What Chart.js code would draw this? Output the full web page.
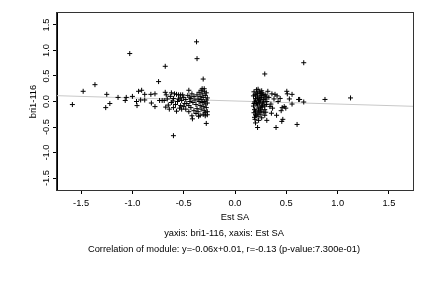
<!DOCTYPE html>
<html>
<head>
<meta charset="utf-8">
<script src="https://cdn.jsdelivr.net/npm/chart.js@4/dist/chart.umd.min.js"></script>
<style>
  html, body { margin: 0; padding: 0; background: #fff; }
  #wrap { width: 432px; height: 288px; }
</style>
</head>
<body>
<div id="wrap"><canvas id="c" width="432" height="288"></canvas></div>
<script>
// Est SA (x) and bri1-116 (y) values
const xVals = [
  -1.585, -1.48, -1.365, -1.25, -1.26, -1.22, -1.14, -1.07, -1.06, -1.0,
  -1.026, -0.96, -0.955, -0.94, -0.91, -0.92, -0.88, -0.88, -0.82, -0.78,
  -0.815, -0.78, -0.745, -0.735, -0.71, -0.69, -0.68, -0.67, -0.68, -0.675,
  -0.65, -0.64, -0.62, -0.605, -0.60, -0.57, -0.57, -0.55, -0.54, -0.535,
  -0.53, -0.49, -0.51, -0.48, -0.45, -0.44, -0.415, -0.38, -0.355, -0.34,
  -0.375, -0.37, -0.31, -0.32, -0.28,
  -0.66, -0.63, -0.62, -0.60, -0.59, -0.58, -0.56, -0.55, -0.53, -0.52,
  -0.50, -0.50, -0.48, -0.47, -0.46, -0.45, -0.44, -0.43, -0.43, -0.42,
  -0.41, -0.40, -0.40, -0.39, -0.38, -0.37, -0.37, -0.36, -0.36, -0.35,
  -0.35, -0.34, -0.34, -0.33, -0.33, -0.32, -0.32, -0.31, -0.31, -0.30,
  -0.30, -0.30, -0.29, -0.29, -0.29, -0.28, -0.28, -0.28, -0.27, -0.27,
  -0.27, -0.27, -0.29, -0.30, -0.31, -0.33, -0.45, -0.42, -0.52, -0.60,
  0.67, 0.29, 1.126, 0.877, 0.22, 0.40, 0.605, 0.456, 0.466, 0.405,
  0.31, 0.29, 0.355, 0.366, 0.45, 0.46, 0.505, 0.51, 0.556, 0.556,
  0.53, 0.62, 0.63, 0.67, 0.32, 0.36, 0.39, 0.41, 0.44, 0.42,
  0.48, 0.495, 0.38, 0.35, 0.33, 0.31, 0.34,
  0.185, 0.18, 0.19, 0.18, 0.185, 0.19, 0.195, 0.20, 0.185, 0.19,
  0.20, 0.195, 0.21, 0.205, 0.20, 0.215, 0.20, 0.205, 0.20, 0.215,
  0.22, 0.21, 0.225, 0.215, 0.225, 0.22, 0.235, 0.22, 0.23, 0.225,
  0.24, 0.235, 0.23, 0.245, 0.235, 0.23, 0.25, 0.245, 0.24, 0.25,
  0.245, 0.26, 0.255, 0.25, 0.26, 0.255, 0.265, 0.26, 0.27, 0.265,
  0.26, 0.275, 0.28, 0.27, 0.275, 0.285, 0.28, 0.29, 0.30, 0.295,
  0.29, 0.31, 0.305, 0.30
];
const yVals = [
  -0.06, 0.20, 0.33, 0.14, -0.12, -0.04, 0.08, 0.02, 0.08, 0.10,
  0.94, 0.00, -0.08, 0.20, 0.22, 0.03, 0.03, 0.14, 0.14, 0.15,
  -0.03, -0.10, 0.39, 0.02, 0.02, 0.02, 0.18, 0.13, 0.69, -0.11,
  -0.07, -0.15, 0.17, 0.01, -0.67, -0.19, 0.14, 0.13, -0.13, 0.07,
  0.13, -0.04, 0.13, -0.15, 0.22, 0.085, -0.34, -0.235, -0.29, -0.27,
  1.17, 0.84, 0.44, 0.25, -0.43,
  0.05, 0.10, -0.02, 0.06, 0.15, -0.06, 0.00, 0.05, -0.08, 0.02,
  0.08, -0.10, 0.04, -0.04, 0.12, -0.08, 0.00, 0.06, -0.12, 0.15,
  -0.02, 0.10, -0.18, 0.03, -0.06, 0.13, -0.14, 0.05, -0.20, 0.18,
  0.00, -0.08, 0.10, -0.15, 0.04, -0.02, 0.15, -0.10, 0.08, 0.00,
  -0.18, 0.20, -0.05, 0.12, -0.22, 0.03, -0.12, 0.17, -0.03, 0.07,
  -0.20, -0.26, -0.28, 0.25, -0.25, 0.22, -0.20, -0.28, -0.15, -0.12,
  0.76, 0.54, 0.07, 0.04, -0.51, -0.51, -0.45, -0.39, -0.35, -0.27,
  -0.37, -0.27, -0.23, -0.13, -0.18, -0.12, 0.20, 0.15, 0.14, -0.05,
  0.05, 0.04, 0.04, -0.01, 0.20, 0.15, 0.14, 0.11, 0.06, 0.00,
  -0.10, -0.13, 0.05, -0.05, 0.08, 0.00, -0.10,
  0.19, 0.11, -0.01, -0.09, -0.22, -0.31, 0.14, 0.06, -0.04, -0.16,
  -0.26, -0.35, 0.23, 0.11, 0.03, -0.07, -0.19, -0.28, -0.42, 0.17,
  0.07, -0.03, -0.13, -0.23, 0.24, 0.15, 0.03, -0.05, -0.17, -0.29,
  0.19, 0.09, 0.01, -0.11, -0.21, -0.37, 0.16, 0.05, -0.03, -0.15,
  -0.25, 0.21, 0.12, 0.01, -0.09, -0.19, 0.17, 0.08, -0.03, -0.11,
  -0.32, 0.14, 0.04, -0.07, -0.21, 0.11, -0.01, -0.09, 0.13, 0.05,
  -0.16, 0.09, -0.06, -0.21
];
const tickVals = [-1.5, -1.0, -0.5, 0.0, 0.5, 1.0, 1.5];
const fitSlope = -0.06;
const fitIntercept = 0.01;
const axisMin = -1.735;
const axisMax = 1.735;
const xTitle = 'Est SA';
const yTitle = 'bri1-116';
const captionLines = [
  'yaxis: bri1-116, xaxis: Est SA',
  'Correlation of module: y=-0.06x+0.01, r=-0.13 (p-value:7.300e-01)'
];

const FONT = '"Liberation Sans", Arial, Helvetica, sans-serif';
const FSIZE = 9.3;

const points = xVals.map((x, i) => ({ x: x, y: yVals[i] }));
const fitLine = [axisMin, axisMax].map(x => ({ x: x, y: fitSlope * x + fitIntercept }));

// box, rotated y tick labels, y title and the two caption lines
const decor = {
  id: 'decor',
  afterDraw(chart) {
    const ctx = chart.ctx;
    const a = chart.chartArea;
    const ys = chart.scales.y;
    ctx.save();
    ctx.strokeStyle = '#333';
    ctx.lineWidth = 1;
    ctx.strokeRect(a.left - 0.5, a.top - 0.5, a.right - a.left + 1, a.bottom - a.top + 1);
    ctx.fillStyle = '#000';
    ctx.font = FSIZE + 'px ' + FONT;
    ctx.textAlign = 'center';
    ctx.textBaseline = 'middle';
    tickVals.forEach(v => {
      ctx.save();
      ctx.translate(46, ys.getPixelForValue(v));
      ctx.rotate(-Math.PI / 2);
      ctx.fillText(v.toFixed(1), 0, 0);
      ctx.restore();
    });
    ctx.save();
    ctx.translate(33, (a.top + a.bottom) / 2);
    ctx.rotate(-Math.PI / 2);
    ctx.fillText(yTitle, 0, 0);
    ctx.restore();
    ctx.fillText(captionLines[0], 224, 233);
    ctx.fillText(captionLines[1], 224, 249);
    ctx.restore();
  }
};

new Chart(document.getElementById('c'), {
  type: 'scatter',
  data: {
    datasets: [
      {
        data: points,
        pointStyle: 'cross',
        pointRadius: 2.5,
        borderColor: '#000',
        backgroundColor: '#000',
        borderWidth: 1
      },
      {
        type: 'line',
        data: fitLine,
        borderColor: '#c8c8c8',
        borderWidth: 1,
        pointRadius: 0,
        fill: false
      }
    ]
  },
  options: {
    responsive: false,
    animation: false,
    events: [],
    layout: { padding: { top: 13, right: 19, left: 0, bottom: 65 } },
    plugins: { legend: { display: false }, tooltip: { enabled: false } },
    scales: {
      x: {
        type: 'linear',
        min: axisMin,
        max: axisMax,
        afterBuildTicks: s => { s.ticks = tickVals.map(v => ({ value: v })); },
        afterFit: s => { s.height = 33; },
        grid: { drawOnChartArea: false, drawTicks: true, tickLength: 4, color: '#000' },
        border: { display: true, color: '#000' },
        ticks: {
          color: '#000',
          padding: 4,
          maxRotation: 0,
          font: { family: FONT, size: FSIZE },
          callback: v => Number(v).toFixed(1)
        },
        title: {
          display: true,
          text: xTitle,
          color: '#000',
          padding: 0,
          font: { family: FONT, size: FSIZE }
        }
      },
      y: {
        type: 'linear',
        min: axisMin,
        max: axisMax,
        afterBuildTicks: s => { s.ticks = tickVals.map(v => ({ value: v })); },
        afterFit: s => { s.width = 57; },
        grid: { drawOnChartArea: false, drawTicks: true, tickLength: 4, color: '#000' },
        border: { display: true, color: '#000' },
        ticks: { display: false }
      }
    }
  },
  plugins: [decor]
});
</script>
</body>
</html>
